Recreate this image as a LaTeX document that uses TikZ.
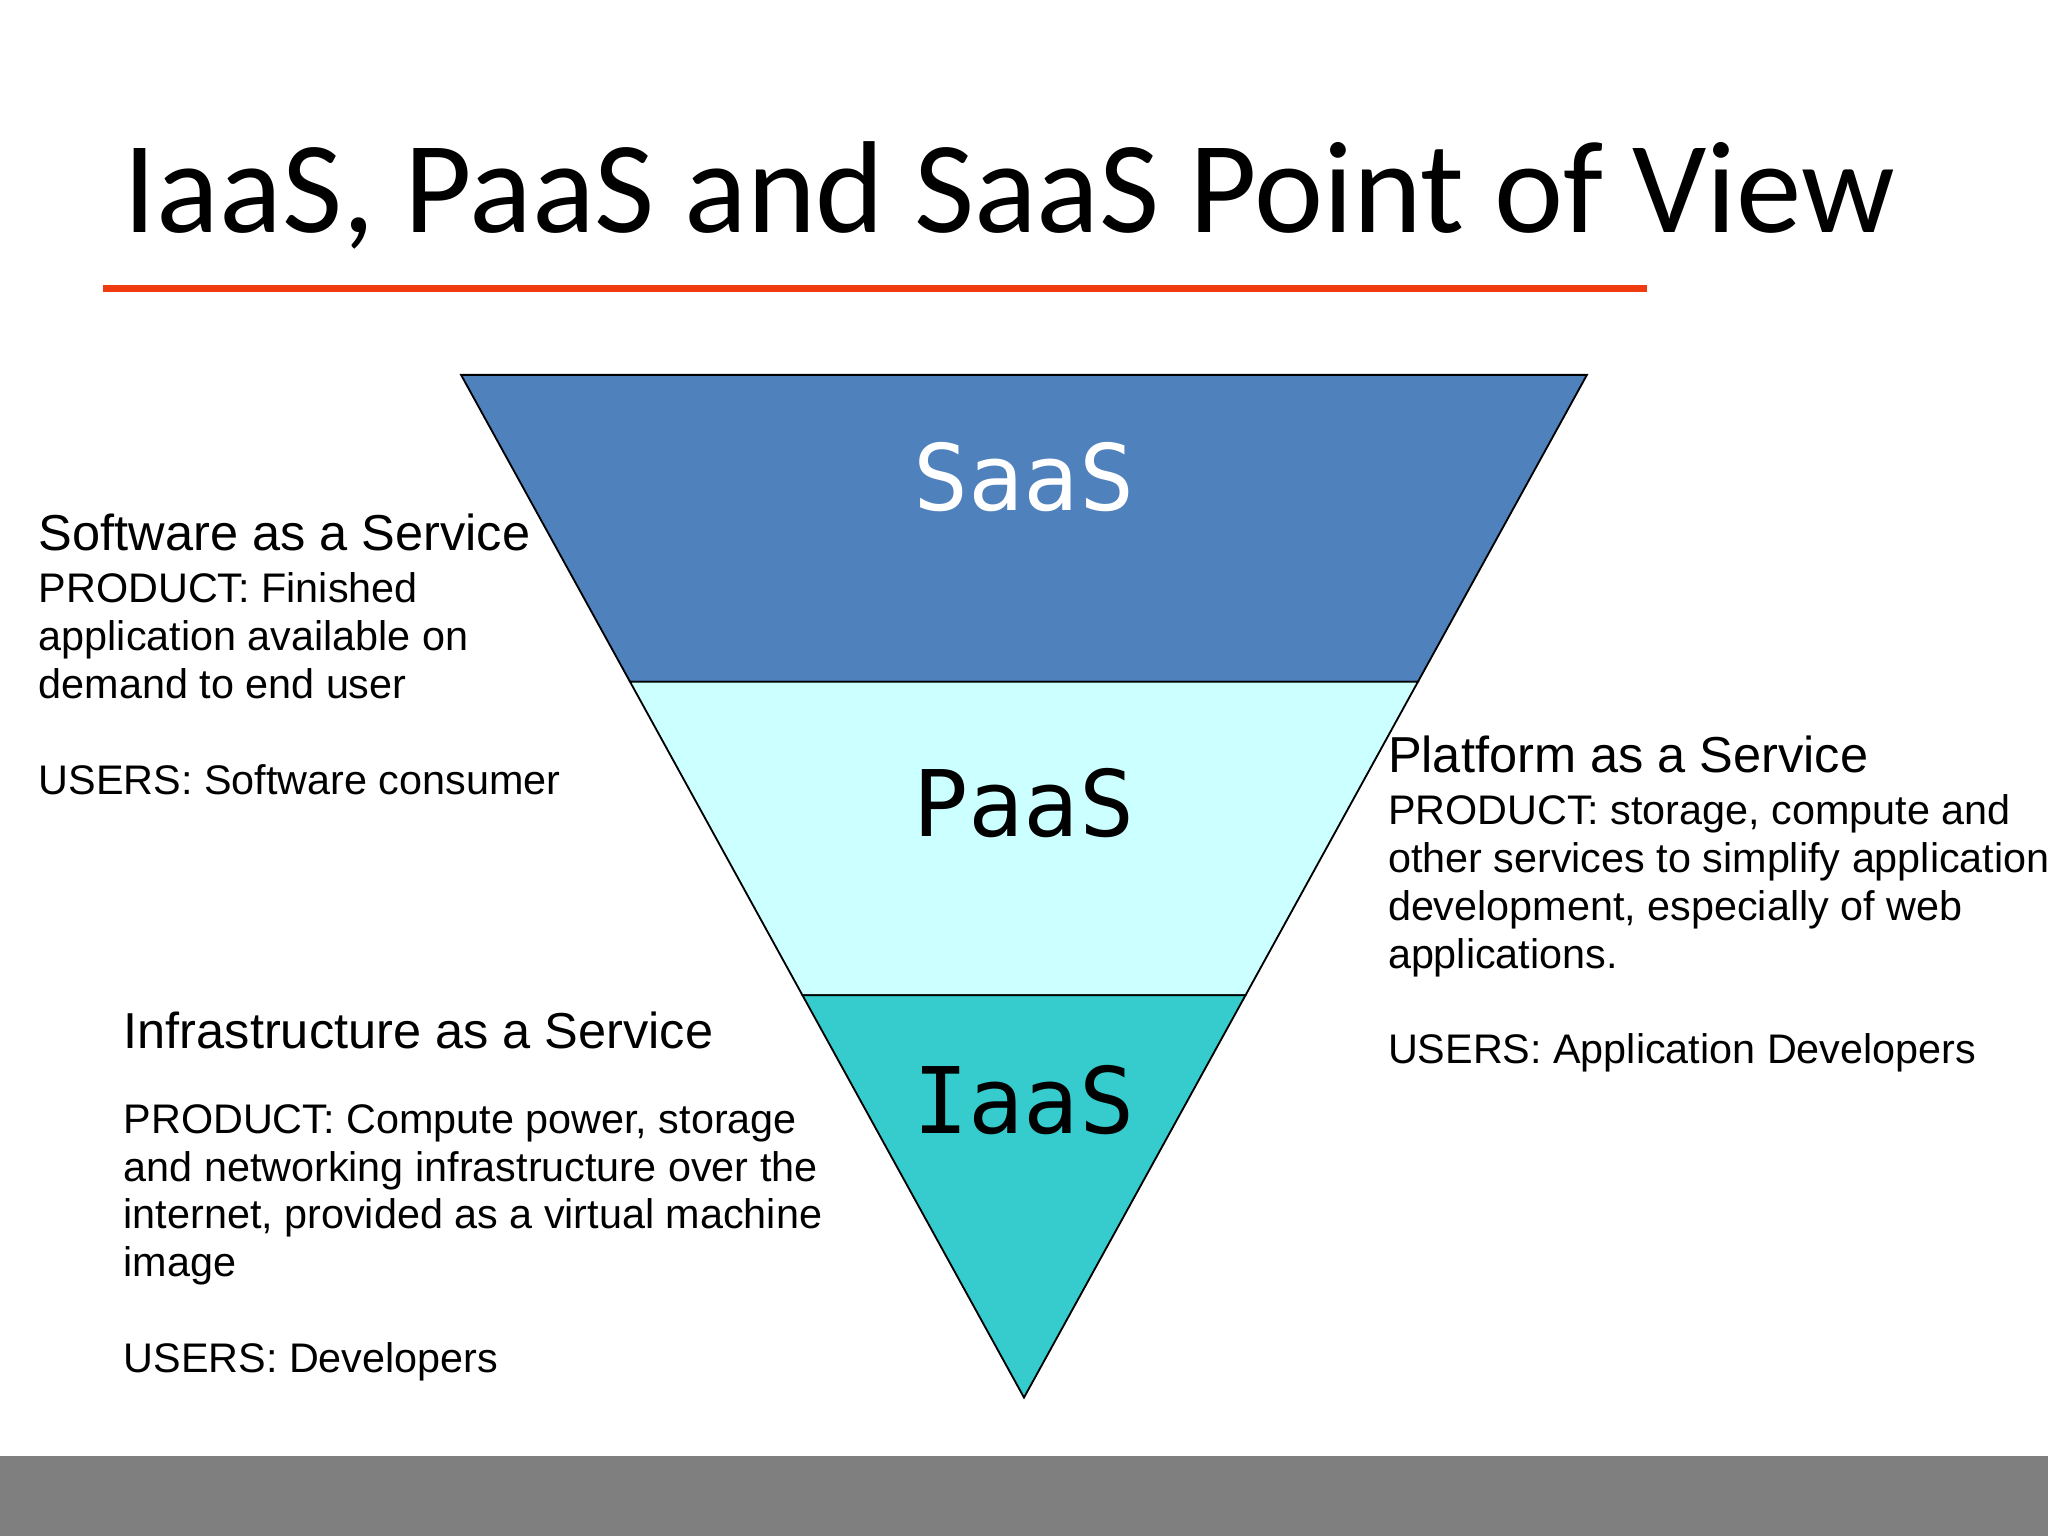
\documentclass[tikz,border=0pt]{standalone}
\usepackage{fontspec}
\setmainfont{Liberation Sans}
\newfontfamily\titlefont{Carlito}
\newfontfamily\monofont{DejaVu Sans Mono}
\definecolor{saas}{HTML}{4F81BD}
\definecolor{paas}{HTML}{CCFFFF}
\definecolor{iaas}{HTML}{36CBCD}
\definecolor{barg}{HTML}{807F80}
\definecolor{redl}{HTML}{F03A10}
\begin{document}
\begin{tikzpicture}[x=0.01cm,y=-0.01cm,
  layer/.style={draw=black,line width=0.4pt},
  lbl/.style={font=\monofont\fontsize{20}{24}\selectfont},
  head/.style={anchor=north west,inner sep=0,font=\fontsize{11}{13}\selectfont},
  body/.style={anchor=north west,inner sep=0,align=left,font=\fontsize{9}{10.4}\selectfont}]
\useasboundingbox (0,0) rectangle (1568,1176);
\fill[white] (0,0) rectangle (1568,1176);
\fill[barg] (0,1115) coordinate (b1) rectangle (1568,1176);
\node[anchor=base west,inner sep=0,font=\titlefont\fontsize{28.5}{32}\selectfont] (title) at (94,178) {IaaS, PaaS and SaaS Point of View};
\draw[redl,line width=1.4pt] (79,221) coordinate (r1) -- (1261,221) coordinate (r2);
\filldraw[layer,fill=saas] (353,287) -- (1215,287) -- (1085.6,522) -- (482.4,522) -- cycle;
\filldraw[layer,fill=paas] (482.4,522) -- (1085.6,522) -- (953.6,762) -- (614.4,762) -- cycle;
\filldraw[layer,fill=iaas] (614.4,762) -- (953.6,762) -- (784,1070) -- cycle;
\node[lbl,text=white] (s) at (784,365) {SaaS};
\node[lbl] (p) at (784,615) {PaaS};
\node[lbl] (i) at (784,842) {IaaS};
\node[head] (sh) at (29,393) {Software as a Service};
\node[body] (sb) at (29,438) {PRODUCT: Finished\\application available on\\demand to end user\\[10.4pt]USERS: Software consumer};
\node[head] (ph) at (1062,563) {Platform as a Service};
\node[body] (pb) at (1062,608) {PRODUCT: storage, compute and\\other services to simplify application\\development, especially of web\\applications.\\[10.4pt]USERS: Application Developers};
\node[head] (ih) at (94,774) {Infrastructure as a Service};
\node[body] (ib) at (94,845) {PRODUCT: Compute power, storage\\and networking infrastructure over the\\internet, provided as a virtual machine\\image\\[10.4pt]USERS: Developers};
\end{tikzpicture}
\end{document}
